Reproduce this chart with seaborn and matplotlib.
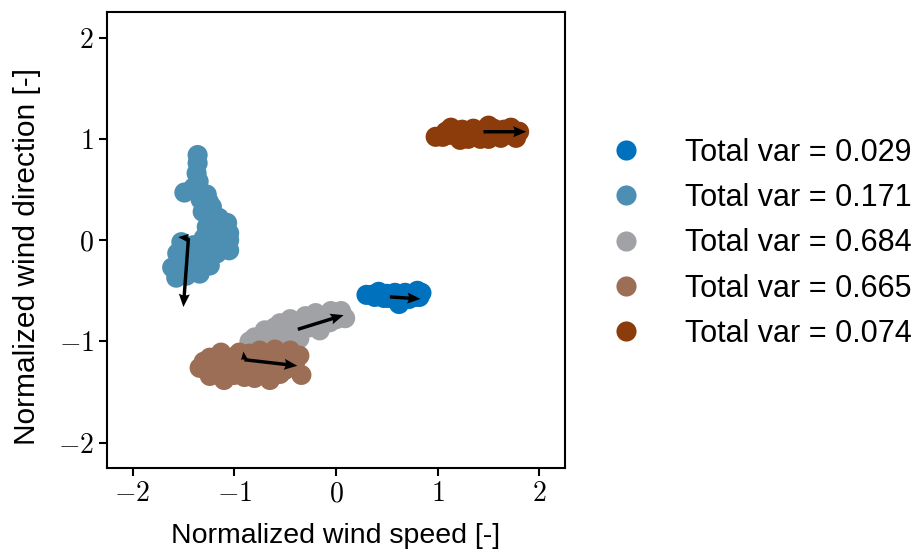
import matplotlib
matplotlib.use("Agg")
import matplotlib.pyplot as plt
import seaborn as sns
import numpy as np
import pandas as pd

# cluster points (normalized wind speed, normalized wind direction)
blue_x = [0.30, 0.35, 0.40, 0.45, 0.50, 0.55, 0.60, 0.62, 0.65, 0.70, 0.75, 0.80, 0.84, 0.82, 0.47,
          0.38, 0.58, 0.68, 0.72, 0.78, 0.42, 0.52, 0.64]
blue_y = [-0.54, -0.54, -0.53, -0.55, -0.53, -0.54, -0.56, -0.63, -0.58, -0.55, -0.53, -0.50, -0.52, -0.56, -0.57,
          -0.56, -0.52, -0.52, -0.58, -0.56, -0.51, -0.57, -0.60]

steel_x = [-1.36, -1.37, -1.49, -1.27, -1.22, -1.31, -1.15, -1.07, -1.27, -1.05, -1.15, -1.24,
           -1.05, -1.17, -1.31, -1.52, -1.56, -1.61, -1.57, -1.34, -1.44, -1.24, -1.05, -1.13,
           -1.36, -1.35, -1.40, -1.33, -1.25, -1.20, -1.10, -1.20, -1.30, -1.40, -1.45, -1.50,
           -1.40, -1.30, -1.20, -1.10, -1.55, -1.47, -1.38]
steel_y = [0.84, 0.66, 0.47, 0.45, 0.33, 0.28, 0.22, 0.17, 0.13, 0.00, 0.00, -0.03,
           -0.10, -0.13, -0.10, -0.02, -0.13, -0.27, -0.37, -0.33, -0.30, -0.25, 0.07, 0.17,
           0.76, 0.58, 0.52, 0.40, 0.38, 0.25, 0.12, 0.08, 0.02, -0.05, -0.18, -0.25,
           -0.22, -0.18, -0.05, -0.05, -0.30, -0.35, -0.28]

gray_x = [-0.80, -0.70, -0.60, -0.50, -0.40, -0.31, -0.21, -0.11, -0.01, 0.06, -0.06, -0.26,
          -0.45, -0.60, -0.36, -0.16, -0.75, 0.09,
          -0.70, -0.65, -0.55, -0.50, -0.42, -0.35, -0.28, -0.20, -0.10, 0.00, -0.55, -0.45,
          -0.30, -0.20, -0.05, 0.05, -0.85, -0.65, -0.50]
gray_y = [-0.96, -0.89, -0.86, -0.84, -0.81, -0.79, -0.77, -0.75, -0.73, -0.73, -0.81, -0.86,
          -0.91, -0.99, -0.97, -0.89, -1.04, -0.77,
          -0.95, -0.90, -0.92, -0.88, -0.86, -0.84, -0.82, -0.80, -0.78, -0.78, -0.82, -0.78,
          -0.75, -0.72, -0.70, -0.70, -1.00, -1.02, -0.98]

brown_x = [-1.34, -1.24, -1.19, -1.13, -1.05, -1.00, -0.95, -0.87, -0.80, -0.75, -0.70, -0.65,
           -0.57, -0.50, -0.45, -0.40, -0.36, -0.34, -0.90, -1.10, -0.60, -0.80, -1.24,
           -1.30, -1.15, -1.10, -1.00, -0.95, -0.85, -0.80, -0.70, -0.65, -0.55, -0.48, -0.60,
           -1.05, -0.75, -0.90, -0.55, -1.18]
brown_y = [-1.26, -1.16, -1.30, -1.11, -1.20, -1.33, -1.11, -1.20, -1.36, -1.09, -1.23, -1.38,
           -1.15, -1.28, -1.09, -1.20, -1.14, -1.33, -1.28, -1.38, -1.30, -1.14, -1.34,
           -1.20, -1.22, -1.15, -1.15, -1.25, -1.12, -1.25, -1.12, -1.25, -1.22, -1.18, -1.08,
           -1.30, -1.32, -1.35, -1.32, -1.25]

dark_x = [0.98, 1.08, 1.17, 1.24, 1.32, 1.40, 1.50, 1.57, 1.65, 1.72, 1.80, 1.77, 1.62, 1.42, 1.22, 1.13,
          1.05, 1.12, 1.28, 1.35, 1.46, 1.55, 1.68, 1.75, 1.30, 1.50]
dark_y = [1.02, 1.07, 1.04, 1.09, 1.02, 1.08, 1.13, 1.06, 1.09, 1.11, 1.07, 1.01, 1.01, 1.00, 0.99, 1.11,
          1.02, 1.04, 1.06, 1.10, 1.04, 1.10, 1.04, 1.06, 1.00, 1.00]

total_var = ["0.029", "0.171", "0.684", "0.665", "0.074"]
colors = ["#0072bd", "#4d8fb3", "#a0a2a5", "#9c6e55", "#8c3c0a"]

# principal direction arrows: start and vector
arrow_x0 = [0.53, -1.45, -1.45, -0.375, -0.90, -0.90, 1.45]
arrow_y0 = [-0.56, 0.02, 0.02, -0.88, -1.18, -1.18, 1.07]
arrow_dx = [0.30, -0.05, -0.10, 0.45, 0.52, -0.01, 0.42]
arrow_dy = [-0.02, -0.68, 0.01, 0.14, -0.06, 0.08, 0.00]

labels = [f"Total var = {v}" for v in total_var]
xs = [blue_x, steel_x, gray_x, brown_x, dark_x]
ys = [blue_y, steel_y, gray_y, brown_y, dark_y]
df = pd.concat([pd.DataFrame({"x": x, "y": y, "group": lab}) for x, y, lab in zip(xs, ys, labels)],
               ignore_index=True)

sns.set_style("ticks")
plt.rcParams["font.family"] = ["Liberation Sans", "DejaVu Sans"]
plt.rcParams["mathtext.fontset"] = "cm"
plt.rcParams["text.color"] = "black"
plt.rcParams["axes.labelcolor"] = "black"

fig = plt.figure(figsize=(9.23, 5.54), dpi=100)
ax = fig.add_axes([0.116, 0.155, 0.496, 0.823])

sns.scatterplot(data=df, x="x", y="y", hue="group", hue_order=labels, palette=colors,
                s=210, linewidth=0, alpha=1, ax=ax)

ax.quiver(arrow_x0, arrow_y0, arrow_dx, arrow_dy, angles="xy", scale_units="xy", scale=1,
          color="black", width=0.0075, headwidth=3.2, headlength=3.8, headaxislength=3.4, zorder=5)

ax.set_xlim(-2.25, 2.25)
ax.set_ylim(-2.25, 2.25)
ticks = [-2, -1, 0, 1, 2]
ax.set_xticks(ticks)
ax.set_yticks(ticks)
ax.set_xticklabels([f"${t}$" for t in ticks], fontsize=20)
ax.set_yticklabels([f"${t}$" for t in ticks], fontsize=20)
ax.tick_params(direction="out", length=6, width=1.5, colors="black")
for sp in ax.spines.values():
    sp.set_linewidth(1.5)
    sp.set_color("black")

ax.set_xlabel("Normalized wind speed [-]", fontsize=20.5, labelpad=11)
ax.set_ylabel("Normalized wind direction [-]", fontsize=21.5)
ax.yaxis.set_label_coords(-0.145, 0.465)

handles, labs = ax.get_legend_handles_labels()
ax.legend(handles, labs, loc="center left", bbox_to_anchor=(1.039, 0.493), frameon=False,
          fontsize=22, markerscale=1.0, handletextpad=0.94, labelspacing=0.5, borderaxespad=0)

fig.savefig("out.png", dpi=100)
